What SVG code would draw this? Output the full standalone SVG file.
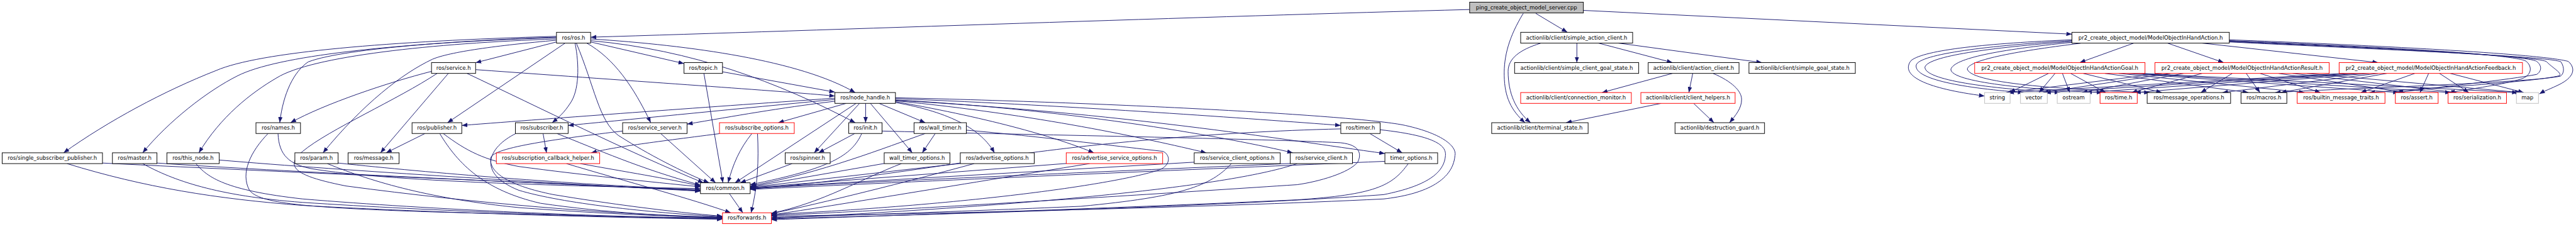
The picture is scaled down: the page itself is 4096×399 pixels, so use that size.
<svg xmlns="http://www.w3.org/2000/svg" width="4096" height="399" viewBox="0 0 4096 399">
<style>
.n rect{fill:#fff;stroke:#000;stroke-width:1.4}
.n.r rect{stroke:#f00}
.n.g rect{stroke:#bfbfbf}
.n.root rect{fill:#bfbfbf}
.n text{font-family:"DejaVu Sans",sans-serif;font-size:12.5px;text-anchor:middle;fill:#000}
#edges path{fill:none;stroke:#191970;stroke-width:1.4;marker-end:url(#a)}
</style>
<defs>
<marker id="a" viewBox="0 0 13 10" refX="13" refY="5" markerWidth="13" markerHeight="10" orient="auto" markerUnits="userSpaceOnUse"><path d="M0,0 L13,5 L0,10 z" fill="#191970"/></marker>
</defs>
<rect width="4096" height="399" fill="#fff"/>
<g transform="scale(0.6875)">
<g id="edges">
<path d="M3399,22 C2800,38 1900,70 1366,86"/>
<path d="M3552,31 L3625,74.7"/>
<path d="M3662,24 L4792,79"/>
<path d="M3523,31 C3490,85 3478,130 3479,175 C3480,225 3495,255 3527,283.7"/>
<path d="M3563,100 C3515,115 3488,135 3488,165 C3488,215 3505,255 3540,283.7"/>
<path d="M3647,99.7 L3647,144.7"/>
<path d="M3697,99.7 L3868,144.7"/>
<path d="M3743,99.7 L4075,144.7"/>
<path d="M3868,169.7 L3705,214"/>
<path d="M3915,169.7 L3906,214"/>
<path d="M3962,169.7 C4005,188 4028,210 4028,230 C4028,250 4015,266 4000,283.7"/>
<path d="M3842,239 L3622,283.7"/>
<path d="M3917,239 L3964,283.7"/>
<path d="M1287,97 L1100,145"/>
<path d="M1366,97 L1582,147"/>
<path d="M1307,99.7 L1035,283.7"/>
<path d="M1330,99.7 C1340,150 1340,210 1318,240 C1305,260 1292,272 1277,283.7"/>
<path d="M1357,99.7 C1420,135 1465,200 1505,283.7"/>
<path d="M1333,99.7 C1375,200 1385,280 1430,313 C1480,345 1560,390 1640,422.7"/>
<path d="M1366,94 C1600,115 1800,190 1978,283.7"/>
<path d="M1366,90 C1600,105 1850,140 1978,214"/>
<path d="M1287,86 C1100,92 800,110 713,143 C680,165 655,215 647,283.7"/>
<path d="M1287,84 C900,95 600,120 500,163 C380,210 250,280 147,353.3"/>
<path d="M1287,87 C900,100 640,130 550,175 C480,210 390,280 330,353.3"/>
<path d="M1287,90 C1000,100 720,130 640,180 C580,215 510,270 460,353.3"/>
<path d="M1287,93 C1150,105 1040,120 1000,137 C930,170 840,240 747,353.3"/>
<path d="M998,165 C900,190 750,240 672,283.7"/>
<path d="M1037,169.7 L880,353.3"/>
<path d="M1100,161 C1500,190 1800,210 1931,222"/>
<path d="M1080,169.7 C1250,250 1450,350 1627,422.7"/>
<path d="M1011,169.7 C920,230 760,300 700,350 C650,390 700,410 800,430 C1100,470 1400,495 1671,503"/>
<path d="M1671,166 L1931,213"/>
<path d="M1628,169.7 L1672,422.7"/>
<path d="M1931,227 C1600,250 1300,272 1068,290"/>
<path d="M1931,230 C1700,252 1500,272 1314,290"/>
<path d="M1931,234 C1800,250 1700,268 1589,287"/>
<path d="M1957,239 L1800,283.7"/>
<path d="M1988,239 L1883,353.3"/>
<path d="M2002,239 L2002,283.7"/>
<path d="M2033,239 L2140,283.7"/>
<path d="M2013,239 L2110,353.3"/>
<path d="M2071,237 C2200,260 2270,300 2300,353.3"/>
<path d="M2071,235 C2300,275 2450,320 2530,353.3"/>
<path d="M2071,233 C2400,265 2650,320 2790,353.3"/>
<path d="M2071,231 C2500,255 2850,320 2990,353.3"/>
<path d="M2071,228 C2500,245 2900,275 3101,290"/>
<path d="M2071,232 C2600,262 2950,320 3203,355"/>
<path d="M1980,239 L1700,422.7"/>
<path d="M2071,226 C2600,238 3150,268 3250,290 C3340,310 3370,340 3365,360 C3360,420 3290,450 3200,460 C2800,480 2100,495 1784,500"/>
<path d="M983,308.7 L893,353.3"/>
<path d="M1025,308.7 C1080,350 1120,370 1200,385 C1350,405 1500,420 1620,432"/>
<path d="M1017,308.7 C1060,380 1120,440 1250,470 C1400,492 1550,500 1671,502"/>
<path d="M1256,308.7 L1264,353.3"/>
<path d="M1288,308.7 C1380,345 1480,390 1620,428"/>
<path d="M1193,308.7 C1130,340 1100,400 1200,440 C1300,470 1500,492 1671,501"/>
<path d="M1528,308.7 L1655,422.7"/>
<path d="M1440,303 C1300,320 1140,340 1135,365 C1130,400 1180,430 1280,450 C1400,470 1550,490 1671,500"/>
<path d="M1664,309 C1500,330 1420,340 1367,353.3"/>
<path d="M1739,308.7 C1710,345 1695,380 1684,422.7"/>
<path d="M1752,308.7 C1755,370 1753,430 1737,492"/>
<path d="M1342,378.3 C1450,398 1540,412 1620,430"/>
<path d="M1310,378.3 C1450,420 1600,460 1690,492"/>
<path d="M237,377 C700,400 1300,425 1620,440"/>
<path d="M155,378.3 C333,433 500,460 700,475 C1000,492 1400,503 1671,507"/>
<path d="M363,377 C700,400 1300,425 1620,441"/>
<path d="M330,378.3 C400,417 500,453 700,468 C1000,488 1400,502 1671,506"/>
<path d="M507,370 C800,395 1300,425 1620,442"/>
<path d="M453,378.3 C480,410 520,440 700,460 C1000,485 1400,502 1671,505"/>
<path d="M643,308.7 C645,360 670,380 720,390 C900,420 1300,430 1620,436"/>
<path d="M620,308.7 C580,350 555,400 577,440 C600,470 700,480 1000,490 C1300,498 1500,503 1671,504"/>
<path d="M782,377 C1000,400 1300,425 1620,439"/>
<path d="M757,378.3 C867,423 1000,460 1200,480 C1400,495 1550,500 1671,504"/>
<path d="M1687,447.7 L1718,492"/>
<path d="M1977,308.7 L1893,353.3"/>
<path d="M1993,308.7 C1970,360 1920,390 1735,427"/>
<path d="M2040,303 C2300,310 2900,320 3100,330 C3150,335 3148,360 3140,375 C3120,400 3050,420 3000,427 C2500,460 2000,490 1784,498"/>
<path d="M1832,378.3 L1712,422.7"/>
<path d="M2163,308.7 L2133,353.3"/>
<path d="M2140,308.7 C2050,340 1900,400 1735,430"/>
<path d="M2235,301 C2400,315 2600,340 2690,350 C2710,360 2705,385 2680,393 C2600,420 2300,470 1784,496"/>
<path d="M2045,378 L1735,432"/>
<path d="M2085,378.3 C2000,410 1900,470 1784,493"/>
<path d="M2221,378 L1735,433"/>
<path d="M2253,378.3 C2100,420 1900,470 1784,494"/>
<path d="M2466,378 L1735,434"/>
<path d="M2520,378.3 C2200,430 1900,480 1784,497"/>
<path d="M2762,375 L1735,435"/>
<path d="M2848,378.3 C2800,430 2733,455 2500,477 C2200,490 1900,500 1784,503"/>
<path d="M2984,378 C2600,395 2000,420 1735,436"/>
<path d="M3000,378.3 C2850,430 2400,475 1784,505"/>
<path d="M3168,308.7 L3243,353.3"/>
<path d="M3101,298 C2800,305 2500,335 2300,365 C2100,395 1900,425 1735,437"/>
<path d="M3192,300 C3330,315 3345,340 3343,360 C3340,400 3300,430 3200,450 C2800,480 2000,500 1784,506"/>
<path d="M3203,373 C2800,390 2100,420 1735,438"/>
<path d="M3257,378.3 C3220,430 3180,450 3000,462 C2500,485 2000,500 1784,508"/>
<path d="M4935,99.7 L4810,144.7"/>
<path d="M5013,99.7 L5143,144.7"/>
<path d="M5093,99.7 L5500,144.7"/>
<path d="M4792,92 C4600,100 4450,115 4420,140 C4400,165 4420,200 4590,222"/>
<path d="M4792,94 C4600,105 4440,125 4432,150 C4425,180 4520,202 4680,214"/>
<path d="M4792,96 C4600,110 4460,130 4452,155 C4450,185 4600,205 4765,214"/>
<path d="M4792,98 C4620,115 4520,135 4512,160 C4510,190 4700,208 4862,214"/>
<path d="M4812,100 C4650,120 4552,140 4550,160 C4560,195 4800,208 4972,214"/>
<path d="M5156,92 C5500,105 5880,125 5940,142 C5960,160 5950,180 5920,195 C5900,205 5885,210 5873,217"/>
<path d="M5156,94 C5500,108 5820,125 5843,142 C5858,155 5855,175 5830,183 C5790,195 5720,205 5665,214"/>
<path d="M5156,95 C5500,110 5845,127 5867,142 C5880,152 5878,165 5867,172 C5800,185 5650,200 5545,214"/>
<path d="M5156,96 C5500,112 5880,130 5890,143 C5905,158 5925,168 5920,175 C5860,190 5600,205 5480,214"/>
<path d="M5156,97 C5500,114 5900,130 5923,143 C5932,157 5930,170 5922,176 C5850,192 5400,205 5262,214"/>
<path d="M4738,169.7 L4648,214"/>
<path d="M4753,169.7 L4716,214"/>
<path d="M4770,169.7 L4787,214"/>
<path d="M4789,169.7 L4870,214"/>
<path d="M4818,169.7 L5000,214"/>
<path d="M4868,169.7 L5200,214"/>
<path d="M4900,169.7 L5330,214"/>
<path d="M4920,169.7 L5548,214"/>
<path d="M4940,169.7 L5668,214"/>
<path d="M4955,169.7 L5823,214"/>
<path d="M5000,169.7 L4640,214"/>
<path d="M5020,169.7 L4725,214"/>
<path d="M5050,169.7 L4815,214"/>
<path d="M5093,169.7 L4930,214"/>
<path d="M5163,169.7 L5090,214"/>
<path d="M5195,169.7 L5227,214"/>
<path d="M5227,169.7 L5367,214"/>
<path d="M5270,169.7 L5562,214"/>
<path d="M5302,169.7 L5682,214"/>
<path d="M5335,169.7 L5830,214"/>
<path d="M5420,169.7 L4645,214"/>
<path d="M5440,169.7 L4730,214"/>
<path d="M5460,169.7 L4825,214"/>
<path d="M5480,169.7 L4938,214"/>
<path d="M5500,169.7 L5140,214"/>
<path d="M5520,169.7 L5275,214"/>
<path d="M5585,169.7 L5460,214"/>
<path d="M5617,169.7 L5597,214"/>
<path d="M5642,169.7 L5710,214"/>
<path d="M5667,169.7 L5837,214"/>
</g>
<g id="n_ping" class="n root"><rect x="3399" y="5" width="263" height="25"/><text x="3530.5" y="21.3">ping_create_object_model_server.cpp</text></g>
<g id="n_ros" class="n"><rect x="1287" y="74.7" width="79" height="25"/><text x="1326.5" y="91">ros/ros.h</text></g>
<g id="n_sac" class="n"><rect x="3517" y="74.7" width="259" height="25"/><text x="3646.5" y="91">actionlib/client/simple_action_client.h</text></g>
<g id="n_action" class="n"><rect x="4792" y="74.7" width="364" height="25"/><text x="4974" y="91">pr2_create_object_model/ModelObjectInHandAction.h</text></g>
<g id="n_service" class="n"><rect x="998" y="144.7" width="102" height="25"/><text x="1049" y="161">ros/service.h</text></g>
<g id="n_topic" class="n"><rect x="1582" y="144.7" width="89" height="25"/><text x="1626.5" y="161">ros/topic.h</text></g>
<g id="n_scgs" class="n"><rect x="3503" y="144.7" width="287" height="25"/><text x="3646.5" y="161">actionlib/client/simple_client_goal_state.h</text></g>
<g id="n_ac" class="n"><rect x="3812" y="144.7" width="210" height="25"/><text x="3917" y="161">actionlib/client/action_client.h</text></g>
<g id="n_sgs" class="n"><rect x="4045" y="144.7" width="246" height="25"/><text x="4168" y="161">actionlib/client/simple_goal_state.h</text></g>
<g id="n_goal" class="n r"><rect x="4567" y="144.7" width="394" height="25"/><text x="4764" y="161">pr2_create_object_model/ModelObjectInHandActionGoal.h</text></g>
<g id="n_result" class="n r"><rect x="4984" y="144.7" width="403" height="25"/><text x="5185.5" y="161">pr2_create_object_model/ModelObjectInHandActionResult.h</text></g>
<g id="n_feedback" class="n r"><rect x="5410" y="144.7" width="424" height="25"/><text x="5622" y="161">pr2_create_object_model/ModelObjectInHandActionFeedback.h</text></g>
<g id="n_node_handle" class="n"><rect x="1931" y="214" width="140" height="25"/><text x="2001" y="230.3">ros/node_handle.h</text></g>
<g id="n_conn_mon" class="n r"><rect x="3517" y="214" width="256" height="25"/><text x="3645" y="230.3">actionlib/client/connection_monitor.h</text></g>
<g id="n_client_helpers" class="n r"><rect x="3795" y="214" width="218" height="25"/><text x="3904" y="230.3">actionlib/client/client_helpers.h</text></g>
<g id="n_string" class="n g"><rect x="4590" y="214" width="59" height="25"/><text x="4619.5" y="230.3">string</text></g>
<g id="n_vector" class="n g"><rect x="4673" y="214" width="62" height="25"/><text x="4704" y="230.3">vector</text></g>
<g id="n_ostream" class="n g"><rect x="4758" y="214" width="76" height="25"/><text x="4796" y="230.3">ostream</text></g>
<g id="n_time" class="n r"><rect x="4857" y="214" width="86" height="25"/><text x="4900" y="230.3">ros/time.h</text></g>
<g id="n_msg_ops" class="n"><rect x="4966" y="214" width="193" height="25"/><text x="5062.5" y="230.3">ros/message_operations.h</text></g>
<g id="n_macros" class="n"><rect x="5183" y="214" width="106" height="25"/><text x="5236" y="230.3">ros/macros.h</text></g>
<g id="n_bmt" class="n r"><rect x="5313" y="214" width="203" height="25"/><text x="5414.5" y="230.3">ros/builtin_message_traits.h</text></g>
<g id="n_assert" class="n r"><rect x="5540" y="214" width="99" height="25"/><text x="5589.5" y="230.3">ros/assert.h</text></g>
<g id="n_serialization" class="n r"><rect x="5662" y="214" width="135" height="25"/><text x="5729.5" y="230.3">ros/serialization.h</text></g>
<g id="n_map" class="n g"><rect x="5820" y="214" width="51" height="25"/><text x="5845.5" y="230.3">map</text></g>
<g id="n_names" class="n"><rect x="592" y="283.7" width="103" height="25"/><text x="643.5" y="300">ros/names.h</text></g>
<g id="n_publisher" class="n"><rect x="953" y="283.7" width="115" height="25"/><text x="1010.5" y="300">ros/publisher.h</text></g>
<g id="n_subscriber" class="n"><rect x="1192" y="283.7" width="122" height="25"/><text x="1253" y="300">ros/subscriber.h</text></g>
<g id="n_service_server" class="n"><rect x="1440" y="283.7" width="149" height="25"/><text x="1514.5" y="300">ros/service_server.h</text></g>
<g id="n_sub_opts" class="n r"><rect x="1664" y="283.7" width="173" height="25"/><text x="1750.5" y="300">ros/subscribe_options.h</text></g>
<g id="n_init" class="n"><rect x="1963" y="283.7" width="77" height="25"/><text x="2001.5" y="300">ros/init.h</text></g>
<g id="n_wall_timer" class="n"><rect x="2114" y="283.7" width="121" height="25"/><text x="2174.5" y="300">ros/wall_timer.h</text></g>
<g id="n_timer" class="n"><rect x="3101" y="283.7" width="91" height="25"/><text x="3146.5" y="300">ros/timer.h</text></g>
<g id="n_terminal_state" class="n"><rect x="3450" y="283.7" width="223" height="25"/><text x="3561.5" y="300">actionlib/client/terminal_state.h</text></g>
<g id="n_destruction_guard" class="n"><rect x="3874" y="283.7" width="207" height="25"/><text x="3977.5" y="300">actionlib/destruction_guard.h</text></g>
<g id="n_ssp" class="n"><rect x="5" y="353.3" width="232" height="25"/><text x="121" y="369.6">ros/single_subscriber_publisher.h</text></g>
<g id="n_master" class="n"><rect x="260" y="353.3" width="103" height="25"/><text x="311.5" y="369.6">ros/master.h</text></g>
<g id="n_this_node" class="n"><rect x="386" y="353.3" width="121" height="25"/><text x="446.5" y="369.6">ros/this_node.h</text></g>
<g id="n_param" class="n"><rect x="682" y="353.3" width="100" height="25"/><text x="732" y="369.6">ros/param.h</text></g>
<g id="n_message" class="n"><rect x="805" y="353.3" width="118" height="25"/><text x="864" y="369.6">ros/message.h</text></g>
<g id="n_sch" class="n r"><rect x="1148" y="353.3" width="239" height="25"/><text x="1267.5" y="369.6">ros/subscription_callback_helper.h</text></g>
<g id="n_spinner" class="n"><rect x="1816" y="353.3" width="104" height="25"/><text x="1868" y="369.6">ros/spinner.h</text></g>
<g id="n_wto" class="n"><rect x="2045" y="353.3" width="152" height="25"/><text x="2121" y="369.6">wall_timer_options.h</text></g>
<g id="n_adv_opts" class="n"><rect x="2221" y="353.3" width="171" height="25"/><text x="2306.5" y="369.6">ros/advertise_options.h</text></g>
<g id="n_aso" class="n r"><rect x="2466" y="353.3" width="223" height="25"/><text x="2577.5" y="369.6">ros/advertise_service_options.h</text></g>
<g id="n_sco" class="n"><rect x="2762" y="353.3" width="199" height="25"/><text x="2861.5" y="369.6">ros/service_client_options.h</text></g>
<g id="n_service_client" class="n"><rect x="2984" y="353.3" width="144" height="25"/><text x="3056" y="369.6">ros/service_client.h</text></g>
<g id="n_timer_options" class="n"><rect x="3203" y="353.3" width="122" height="25"/><text x="3264" y="369.6">timer_options.h</text></g>
<g id="n_common" class="n"><rect x="1620" y="422.7" width="115" height="25"/><text x="1677.5" y="439">ros/common.h</text></g>
<g id="n_forwards" class="n r"><rect x="1671" y="492" width="113" height="25"/><text x="1727.5" y="508.3">ros/forwards.h</text></g>
</g>
</svg>
